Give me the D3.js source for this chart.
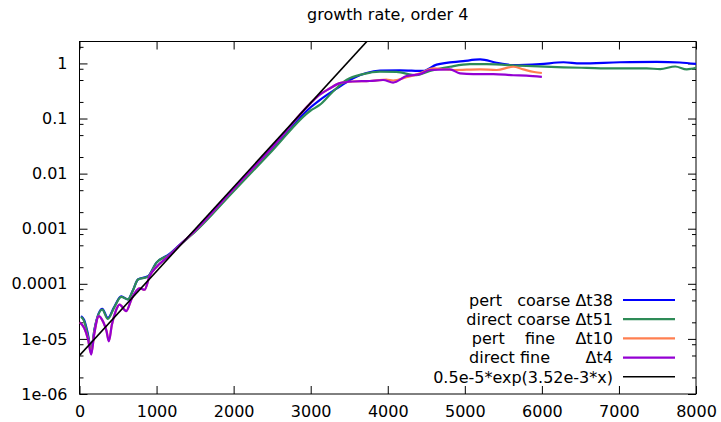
<!DOCTYPE html>
<html>
<head>
<meta charset="utf-8">
<script src="https://cdn.jsdelivr.net/npm/d3@7"></script>
<style>
  body { margin: 0; background: #fff; }
  svg text { font-family: "DejaVu Sans", sans-serif; font-size: 16px; fill: #000; }
  .legend-label { white-space: pre; }
</style>
</head>
<body>
<svg id="chart"></svg>
<script>
// values: [time, growth rate]
const pertCoarse = [[20,2.6e-5],[60,2.2e-5],[105,1.3e-5],[152,6.3e-6],[195,1.5e-5],[295,3.5e-5],[368,2.4e-5],[450,3.8e-5],[541,5.9e-5],[628,5.2e-5],[700,8e-5],[758,1.2e-4],[888,1.37e-4],[996,2.4e-4],[1169,3.5e-4],[1300,5.1e-4],[1500,9e-4],[2000,5e-3],[2500,0.028],[3000,0.16],[3117,0.216],[3377,0.38],[3550,0.54],[3723,0.67],[3900,0.74],[4160,0.75],[4460,0.73],[4634,0.95],[4980,1.1],[5200,1.18],[5413,1.03],[5629,0.93],[5976,0.97],[6280,1.05],[6500,1.0],[7013,1.05],[7490,1.07],[7790,1.04],[8000,0.98]];
const directCoarse = [[20,2.5e-5],[60,2.1e-5],[105,1.2e-5],[152,6.5e-6],[195,1.5e-5],[295,3.4e-5],[368,2.3e-5],[450,3.7e-5],[541,5.8e-5],[628,5.2e-5],[700,8e-5],[758,1.2e-4],[888,1.35e-4],[996,2.4e-4],[1169,3.4e-4],[1300,5e-4],[1500,8.8e-4],[2000,4.8e-3],[2500,0.026],[3000,0.14],[3117,0.176],[3290,0.31],[3464,0.5],[3680,0.64],[3897,0.71],[4113,0.7],[4373,0.61],[4547,0.73],[4807,0.87],[5067,0.97],[5283,0.97],[5716,0.91],[6280,0.85],[6580,0.83],[6926,0.81],[7360,0.81],[7535,0.79],[7730,0.88],[7880,0.78],[8000,0.83]];
const pertFine = [[0,2e-5],[60,1.6e-5],[110,1e-5],[152,5.4e-6],[190,1.2e-5],[251,2.6e-5],[310,2e-5],[350,1.4e-5],[381,9.2e-6],[420,1.8e-5],[470,3.2e-5],[520,4.2e-5],[606,3.2e-5],[680,5.5e-5],[779,8.3e-5],[844,7.8e-5],[909,1.37e-4],[996,2e-4],[1169,3.3e-4],[1300,5e-4],[1500,9.3e-4],[2000,5.3e-3],[2500,0.03],[3000,0.19],[3117,0.27],[3247,0.35],[3377,0.44],[3550,0.47],[3767,0.48],[3983,0.51],[4070,0.49],[4243,0.56],[4417,0.66],[4590,0.81],[4850,0.76],[5197,0.78],[5413,0.76],[5629,0.87],[5759,0.78],[5900,0.7],[6000,0.67]];
const directFine = [[0,2e-5],[60,1.6e-5],[110,1e-5],[152,5.2e-6],[190,1.2e-5],[251,2.6e-5],[310,2e-5],[350,1.4e-5],[381,9e-6],[420,1.8e-5],[470,3.2e-5],[520,4.2e-5],[606,3.2e-5],[680,5.5e-5],[779,8.3e-5],[844,7.8e-5],[909,1.37e-4],[996,2e-4],[1169,3.3e-4],[1300,5e-4],[1500,9.3e-4],[2000,5.3e-3],[2500,0.03],[3000,0.19],[3117,0.27],[3247,0.35],[3377,0.44],[3550,0.47],[3767,0.48],[3940,0.5],[4070,0.45],[4243,0.59],[4417,0.64],[4547,0.76],[4807,0.78],[4937,0.66],[5110,0.64],[5370,0.64],[5629,0.61],[5800,0.6],[6000,0.57]];
// the fitted exponential is a straight line on the log axis
const fitLine = [[0,5e-6],[4000,6.51]];

const seriesNames = ['pert   coarse Δt38', 'direct coarse Δt51', 'pert    fine    Δt10', 'direct fine       Δt4', '0.5e-5*exp(3.52e-3*x)'];
const seriesColors = ['#0000ff', '#2e8b57', '#ff7f50', '#9400d3', '#000000'];
const xTicks = [0, 1000, 2000, 3000, 4000, 5000, 6000, 7000, 8000];
const yTicks = [1e-6, 1e-5, 1e-4, 1e-3, 0.01, 0.1, 1];
const yTickLabels = ['1e-06', '1e-05', '0.0001', '0.001', '0.01', '0.1', '1'];

class LogLinePlot {

  constructor(_config, _data) {
    this.config = {
      parentElement: _config.parentElement,
      containerWidth: _config.containerWidth || 721,
      containerHeight: _config.containerHeight || 422,
      margin: _config.margin || {top: 41.5, right: 25, bottom: 28, left: 79.5}
    }
    this.data = _data;
    this.title = _config.title || "Title";
    this.initVis();
  }

  initVis() {
    let vis = this;
    const m = this.config.margin;
    this.width = this.config.containerWidth - m.left - m.right;
    this.height = this.config.containerHeight - m.top - m.bottom;

    this.xScale = d3.scaleLinear().domain([0, 8000]).range([0, this.width]);
    this.yScale = d3.scaleLog().domain([1e-6, 2.5]).range([this.height, 0]);

    this.svg = d3.select(this.config.parentElement)
        .attr('width', this.config.containerWidth)
        .attr('height', this.config.containerHeight);

    this.chart = this.svg.append('g')
        .attr('transform', `translate(${m.left},${m.top})`);

    this.svg.append('defs').append('clipPath').attr('id', 'plot-clip')
      .append('rect').attr('width', this.width).attr('height', this.height);

    // minor ticks at 2, 5, 8 of each decade
    this.minorTicks = [];
    yTicks.concat([10]).forEach(t => [2, 5, 8].forEach(k => {
      const v = t * k;
      if (v < 2.5) this.minorTicks.push(v);
    }));

    // bottom / top x axes (ticks point inside)
    this.chart.append('g')
        .attr('transform', `translate(0,${this.height})`)
        .call(d3.axisBottom(this.xScale).tickValues(xTicks).tickSize(-8).tickPadding(12).tickFormat(d3.format('d')))
        .call(g => g.select('.domain').remove());
    this.chart.append('g')
        .call(d3.axisTop(this.xScale).tickValues(xTicks).tickSize(-8).tickFormat(''))
        .call(g => g.select('.domain').remove());

    // left / right y axes
    this.chart.append('g')
        .call(d3.axisLeft(this.yScale).tickValues(yTicks).tickSize(-8).tickPadding(12).tickFormat((d, i) => yTickLabels[i]))
        .call(g => g.select('.domain').remove());
    this.chart.append('g')
        .attr('transform', `translate(${this.width},0)`)
        .call(d3.axisRight(this.yScale).tickValues(yTicks).tickSize(-8).tickFormat(''))
        .call(g => g.select('.domain').remove());
    this.chart.append('g')
        .call(d3.axisLeft(this.yScale).tickValues(this.minorTicks).tickSize(-4).tickFormat(''))
        .call(g => g.select('.domain').remove());
    this.chart.append('g')
        .attr('transform', `translate(${this.width},0)`)
        .call(d3.axisRight(this.yScale).tickValues(this.minorTicks).tickSize(-4).tickFormat(''))
        .call(g => g.select('.domain').remove());

    this.chart.selectAll('.tick text').style('font-size', '16px').style('font-family', '"DejaVu Sans", sans-serif');
    this.chart.selectAll('.tick line').attr('stroke', '#000');

    this.chart.append('rect')
        .attr('width', this.width)
        .attr('height', this.height)
        .attr('fill', 'none')
        .attr('stroke', '#000')
        .attr('stroke-width', 1);

    // chart title
    this.svg.append('text')
        .attr('x', m.left + this.width / 2)
        .attr('y', 20)
        .style('text-anchor', 'middle')
        .text(this.title);

    this.updateVis();
  }

  updateVis() {
    let vis = this;
    const line = d3.line()
        .x(d => this.xScale(d[0]))
        .y(d => this.yScale(d[1]))
        .curve(d3.curveMonotoneX);

    const plot = this.chart.append('g').attr('clip-path', 'url(#plot-clip)');
    plot.selectAll('.series')
        .data(this.data)
      .join('path')
        .attr('class', 'series')
        .attr('fill', 'none')
        .attr('stroke', (d, i) => seriesColors[i])
        .attr('stroke-width', (d, i) => i === 4 ? 1.6 : 2.2)
        .attr('stroke-linejoin', 'round')
        .attr('d', d => line(d));

    // legend, bottom right
    const legend = this.svg.append('g');
    seriesNames.forEach((name, i) => {
      const y = 300 + i * 19.2;
      legend.append('text')
          .attr('class', 'legend-label')
          .attr('x', 613)
          .attr('y', y)
          .attr('dy', '0.36em')
          .style('text-anchor', 'end')
          .text(name);
      legend.append('line')
          .attr('x1', 623).attr('x2', 675)
          .attr('y1', y).attr('y2', y)
          .attr('stroke', seriesColors[i])
          .attr('stroke-width', i === 4 ? 1.6 : 2.2);
    });
  }
}

new LogLinePlot({parentElement: '#chart', title: 'growth rate, order 4'},
  [pertCoarse, directCoarse, pertFine, directFine, fitLine]);
</script>
</body>
</html>
